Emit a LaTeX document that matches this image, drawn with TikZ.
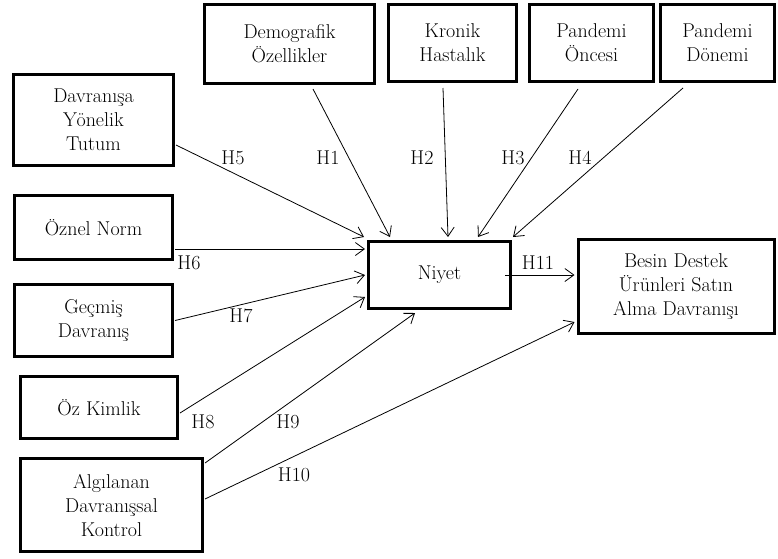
\documentclass[tikz,border=0pt]{standalone}
\usepackage{fontspec}
\usepackage{tikz}
\usetikzlibrary{arrows.meta}

\tikzset{
    kutu/.style={draw=black, line width=3pt, align=center, inner sep=2pt},
    ok/.style={black, line width=0.8pt, -{Straight Barb[length=9pt,width=13pt]}}
}

\begin{document}
\begin{tikzpicture}[x=1pt, y=-1pt, font=\fontsize{20}{24}\selectfont]
        \useasboundingbox (0,0) rectangle (778,558);
        % ust kutular
        \node[kutu, minimum width=170pt, minimum height=79pt] (demo) at (289.5,44) {Demografik\\ Özellikler};
        \node[kutu, minimum width=128pt, minimum height=77pt] (kronik) at (452.5,43) {Kronik\\ Hastalık};
        \node[kutu, minimum width=124pt, minimum height=77pt] (once) at (591.5,43) {Pandemi\\ Öncesi};
        \node[kutu, minimum width=114pt, minimum height=77pt] (donem) at (717.5,43) {Pandemi\\ Dönemi};
        % sol kutular
        \node[kutu, minimum width=160pt, minimum height=91pt] (tutum) at (93.5,120) {Davranışa\\ Yönelik\\ Tutum};
        \node[kutu, minimum width=158pt, minimum height=64pt] (norm) at (93.5,227.5) {Öznel Norm};
        \node[kutu, minimum width=158pt, minimum height=72pt] (gecmis) at (93.5,320.5) {Geçmiş\\ Davranış};
        \node[kutu, minimum width=157pt, minimum height=62pt] (kimlik) at (99,407.5) {Öz Kimlik};
        \node[kutu, minimum width=182pt, minimum height=93pt] (kontrol) at (111.5,505) {Algılanan\\ Davranışsal\\ Kontrol};
        % orta ve sag
        \node[kutu, minimum width=142pt, minimum height=67pt] (niyet) at (439.5,275) {Niyet};
        \node[kutu, minimum width=196pt, minimum height=94pt] (besin) at (676,286.5) {Besin Destek\\ Ürünleri Satın\\ Alma Davranışı};

        \draw[ok] ([xshift=23.5pt,yshift=-4pt]demo.south) -- ([xshift=-49.5pt,yshift=3pt]niyet.north);
        \draw[ok] ([xshift=-9.5pt,yshift=-5pt]kronik.south) -- ([xshift=8.5pt,yshift=3pt]niyet.north);
        \draw[ok] ([xshift=-13.5pt,yshift=-6pt]once.south) -- ([xshift=38.5pt,yshift=3pt]niyet.north);
        \draw[ok] ([xshift=-34.5pt,yshift=-5pt]donem.south) -- ([xshift=1pt,yshift=3pt]niyet.north east);
        \draw[ok] ([xshift=1pt,yshift=-25pt]tutum.east) -- ([xshift=-3pt,yshift=3pt]niyet.north west);
        \draw[ok] ([xshift=1pt,yshift=-21.5pt]norm.east) -- ([xshift=-2pt,yshift=26pt]niyet.west);
        \draw[ok] ([xshift=1pt]gecmis.east) -- ([xshift=-2pt]niyet.west);
        \draw[ok] ([xshift=1pt,yshift=-5.5pt]kimlik.east) -- ([xshift=-2pt,yshift=-22pt]niyet.west);
        \draw[ok] ([xshift=1pt,yshift=42pt]kontrol.east) -- ([xshift=-24.5pt,yshift=-3pt]niyet.south);
        \draw[ok] ([xshift=1pt,yshift=6pt]kontrol.east) -- ([xshift=-2pt,yshift=-35.5pt]besin.west);
        \draw[ok] ([xshift=-7pt]niyet.east) -- ([xshift=-2pt]niyet.east -| besin.west);

        \foreach \n/\x/\y in {1/328/158, 2/422/158, 3/513/158, 4/580/158, 5/233/158, 6/189/263,
                              7/241/316, 8/203/422, 9/288/422, 10/294/475, 11/538/263} {
                \node (h\n) at (\x,\y) {H\n};
            }
    \end{tikzpicture}
\end{document}
